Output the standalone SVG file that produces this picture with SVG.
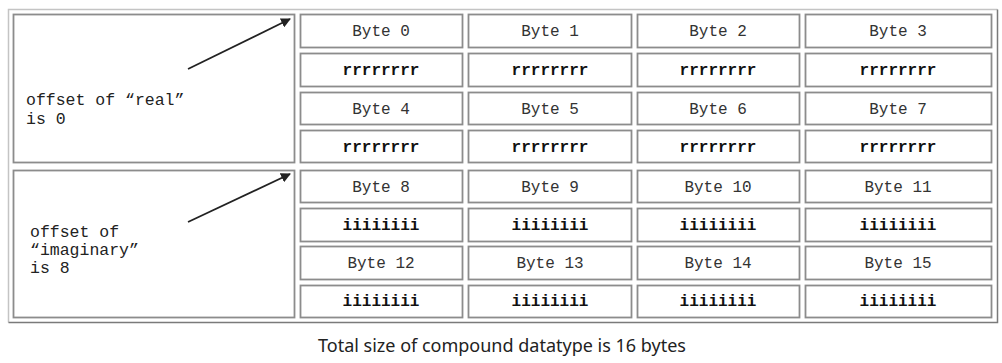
<svg xmlns="http://www.w3.org/2000/svg" width="1002" height="363" viewBox="0 0 1002 363">
<defs>
<style>
.cell{fill:#fff;stroke:#8c8c8c;stroke-width:1.8}
.byte{font-family:"Liberation Mono",monospace;font-size:16px;fill:#333;text-anchor:middle}
.bits{font-family:"Liberation Mono",monospace;font-size:16px;font-weight:bold;fill:#111;text-anchor:middle}
.note{font-family:"Liberation Mono",monospace;font-size:16.5px;fill:#222}
.cap{font-family:"Noto Sans","Liberation Sans",sans-serif;font-size:18px;fill:#222;text-anchor:middle}
.arr{stroke:#222;stroke-width:1.8;fill:none;marker-end:url(#ah)}
</style>
<marker id="ah" viewBox="0 0 10 10" refX="9" refY="5" markerWidth="5.5" markerHeight="5.5" orient="auto" markerUnits="strokeWidth">
<path d="M0,0 L10,5 L0,10 z" fill="#222"/>
</marker>
</defs>
<rect width="1002" height="363" fill="#fff"/>
<g id="table-frame">
<path d="M8.5,322.5 V9.5 H997.5" fill="none" stroke="#c4c4c4" stroke-width="1.5"/>
<path d="M8.5,322.5 H997.5 V9.5" fill="none" stroke="#7a7a7a" stroke-width="1.5"/>
</g>
<g id="left-real">
<rect class="cell" x="13.5" y="14.5" width="281" height="148"/>
<text class="note" x="26" y="105">offset of “real”</text>
<text class="note" x="26" y="124">is 0</text>
</g>
<g id="left-imag">
<rect class="cell" x="13.5" y="170.5" width="281" height="147"/>
<text class="note" x="30" y="237">offset of</text>
<text class="note" x="30" y="255">“imaginary”</text>
<text class="note" x="30" y="273">is 8</text>
</g>
<g id="byte-grid">
<g id="r0">
<rect class="cell" x="300.5" y="14.5" width="162" height="33"/><text class="byte" x="381" y="36">Byte 0</text>
<rect class="cell" x="468.5" y="14.5" width="163" height="33"/><text class="byte" x="550" y="36">Byte 1</text>
<rect class="cell" x="637.5" y="14.5" width="162" height="33"/><text class="byte" x="718" y="36">Byte 2</text>
<rect class="cell" x="805.5" y="14.5" width="186" height="33"/><text class="byte" x="898" y="36">Byte 3</text>
</g>
<g id="r1">
<rect class="cell" x="300.5" y="53.5" width="162" height="33"/><text class="bits" x="381" y="75">rrrrrrrr</text>
<rect class="cell" x="468.5" y="53.5" width="163" height="33"/><text class="bits" x="550" y="75">rrrrrrrr</text>
<rect class="cell" x="637.5" y="53.5" width="162" height="33"/><text class="bits" x="718" y="75">rrrrrrrr</text>
<rect class="cell" x="805.5" y="53.5" width="186" height="33"/><text class="bits" x="898" y="75">rrrrrrrr</text>
</g>
<g id="r2">
<rect class="cell" x="300.5" y="92.5" width="162" height="32"/><text class="byte" x="381" y="114">Byte 4</text>
<rect class="cell" x="468.5" y="92.5" width="163" height="32"/><text class="byte" x="550" y="114">Byte 5</text>
<rect class="cell" x="637.5" y="92.5" width="162" height="32"/><text class="byte" x="718" y="114">Byte 6</text>
<rect class="cell" x="805.5" y="92.5" width="186" height="32"/><text class="byte" x="898" y="114">Byte 7</text>
</g>
<g id="r3">
<rect class="cell" x="300.5" y="130.5" width="162" height="32"/><text class="bits" x="381" y="152">rrrrrrrr</text>
<rect class="cell" x="468.5" y="130.5" width="163" height="32"/><text class="bits" x="550" y="152">rrrrrrrr</text>
<rect class="cell" x="637.5" y="130.5" width="162" height="32"/><text class="bits" x="718" y="152">rrrrrrrr</text>
<rect class="cell" x="805.5" y="130.5" width="186" height="32"/><text class="bits" x="898" y="152">rrrrrrrr</text>
</g>
<g id="r4">
<rect class="cell" x="300.5" y="170.5" width="162" height="32"/><text class="byte" x="381" y="192">Byte 8</text>
<rect class="cell" x="468.5" y="170.5" width="163" height="32"/><text class="byte" x="550" y="192">Byte 9</text>
<rect class="cell" x="637.5" y="170.5" width="162" height="32"/><text class="byte" x="718" y="192">Byte 10</text>
<rect class="cell" x="805.5" y="170.5" width="186" height="32"/><text class="byte" x="898" y="192">Byte 11</text>
</g>
<g id="r5">
<rect class="cell" x="300.5" y="208.5" width="162" height="33"/><text class="bits" x="381" y="230">iiiiiiii</text>
<rect class="cell" x="468.5" y="208.5" width="163" height="33"/><text class="bits" x="550" y="230">iiiiiiii</text>
<rect class="cell" x="637.5" y="208.5" width="162" height="33"/><text class="bits" x="718" y="230">iiiiiiii</text>
<rect class="cell" x="805.5" y="208.5" width="186" height="33"/><text class="bits" x="898" y="230">iiiiiiii</text>
</g>
<g id="r6">
<rect class="cell" x="300.5" y="246.5" width="162" height="33"/><text class="byte" x="381" y="268">Byte 12</text>
<rect class="cell" x="468.5" y="246.5" width="163" height="33"/><text class="byte" x="550" y="268">Byte 13</text>
<rect class="cell" x="637.5" y="246.5" width="162" height="33"/><text class="byte" x="718" y="268">Byte 14</text>
<rect class="cell" x="805.5" y="246.5" width="186" height="33"/><text class="byte" x="898" y="268">Byte 15</text>
</g>
<g id="r7">
<rect class="cell" x="300.5" y="285.5" width="162" height="32"/><text class="bits" x="381" y="306">iiiiiiii</text>
<rect class="cell" x="468.5" y="285.5" width="163" height="32"/><text class="bits" x="550" y="306">iiiiiiii</text>
<rect class="cell" x="637.5" y="285.5" width="162" height="32"/><text class="bits" x="718" y="306">iiiiiiii</text>
<rect class="cell" x="805.5" y="285.5" width="186" height="32"/><text class="bits" x="898" y="306">iiiiiiii</text>
</g>
</g>
<g id="connectors">
<line class="arr" x1="188" y1="69" x2="290" y2="19"/>
<line class="arr" x1="188" y1="222" x2="290" y2="174"/>
</g>
<g id="caption">
<text class="cap" x="502" y="352" textLength="368" lengthAdjust="spacingAndGlyphs">Total size of compound datatype is 16 bytes</text>
</g>
</svg>
